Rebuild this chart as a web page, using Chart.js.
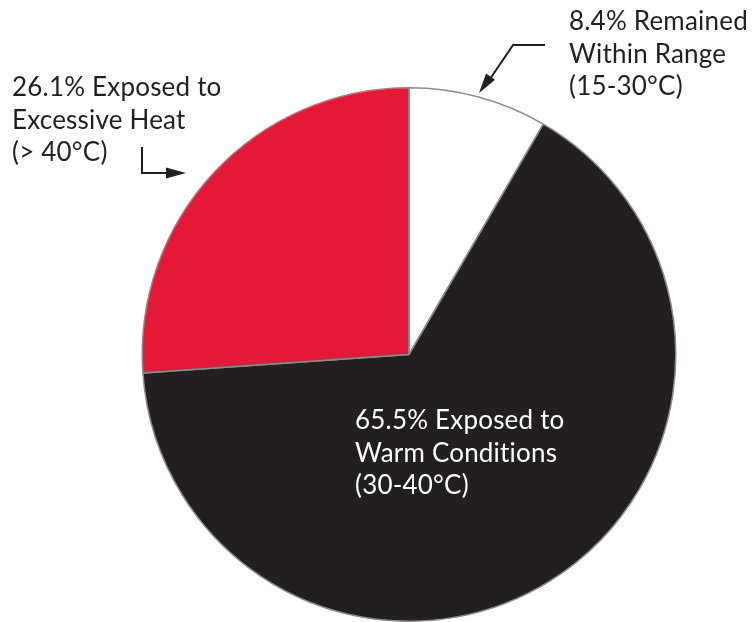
<!DOCTYPE html>
<html>
<head>
<meta charset="utf-8">
<script src="https://cdn.jsdelivr.net/npm/chart.js@4/dist/chart.umd.min.js"></script>
<style>
    html, body { margin: 0; padding: 0; background: #fff; }
    #wrap { width: 753px; height: 622px; position: relative; }
</style>
</head>
<body>
<div id="wrap"><canvas id="chart" width="753" height="622"></canvas></div>
<script>
const sliceLabels = ['Remained Within Range', 'Exposed to Warm Conditions', 'Exposed to Excessive Heat'];
const sliceValues = [8.4, 65.5, 26.1];
const sliceColors = ['#ffffff', '#231f20', '#e31937'];

const calloutRange = ['8.4% Remained', 'Within Range', '(15-30°C)'];
const calloutWarm = ['65.5% Exposed to', 'Warm Conditions', '(30-40°C)'];
const calloutHeat = ['26.1% Exposed to', 'Excessive Heat', '(> 40°C)'];

const FONT = '26px Lato, "Open Sans", sans-serif';
const LINE_H = 32.5;

const drawLines = (ctx, lines, x, y, color) => {
    ctx.fillStyle = color;
    lines.forEach((line, i) => ctx.fillText(line, x, y + i * LINE_H));
};

const drawArrowHead = (ctx, tipX, tipY, fromX, fromY) => {
    const angle = Math.atan2(tipY - fromY, tipX - fromX);
    const len = 20, half = 5.5;
    ctx.beginPath();
    ctx.moveTo(tipX, tipY);
    ctx.lineTo(tipX - len * Math.cos(angle) + half * Math.sin(angle), tipY - len * Math.sin(angle) - half * Math.cos(angle));
    ctx.lineTo(tipX - len * Math.cos(angle) - half * Math.sin(angle), tipY - len * Math.sin(angle) + half * Math.cos(angle));
    ctx.closePath();
    ctx.fill();
};

const calloutPlugin = {
    id: 'callouts',
    afterDraw(chart) {
        const ctx = chart.ctx;
        ctx.save();
        ctx.font = FONT;
        ctx.letterSpacing = '0.2px'; // also stops the "ti" ligature
        ctx.textBaseline = 'alphabetic';
        ctx.textAlign = 'left';

        drawLines(ctx, calloutRange, 569, 30, '#231f20');
        drawLines(ctx, calloutHeat, 12, 96, '#231f20');
        drawLines(ctx, calloutWarm, 355, 429, '#ffffff');

        ctx.strokeStyle = '#231f20';
        ctx.fillStyle = '#231f20';
        ctx.lineWidth = 2;

        // arrow to white slice
        ctx.beginPath();
        ctx.moveTo(545, 45);
        ctx.lineTo(513, 45);
        ctx.lineTo(488, 82);
        ctx.stroke();
        drawArrowHead(ctx, 479, 93, 513, 45);

        // arrow to red slice
        ctx.beginPath();
        ctx.moveTo(142, 147);
        ctx.lineTo(142, 173);
        ctx.lineTo(170, 173);
        ctx.stroke();
        drawArrowHead(ctx, 186, 173, 142, 173);

        ctx.restore();
    }
};

new Chart(document.getElementById('chart'), {
    type: 'pie',
    data: {
        labels: sliceLabels,
        datasets: [{
            data: sliceValues,
            backgroundColor: sliceColors,
            borderColor: '#8c8c8c',
            borderWidth: 1.5,
        }]
    },
    options: {
        responsive: false,
        animation: false,
        layout: { padding: { top: 87, left: 141, right: 76, bottom: 0 } },
        plugins: {
            legend: { display: false },
            tooltip: { enabled: false }
        }
    },
    plugins: [calloutPlugin]
});
</script>
</body>
</html>
